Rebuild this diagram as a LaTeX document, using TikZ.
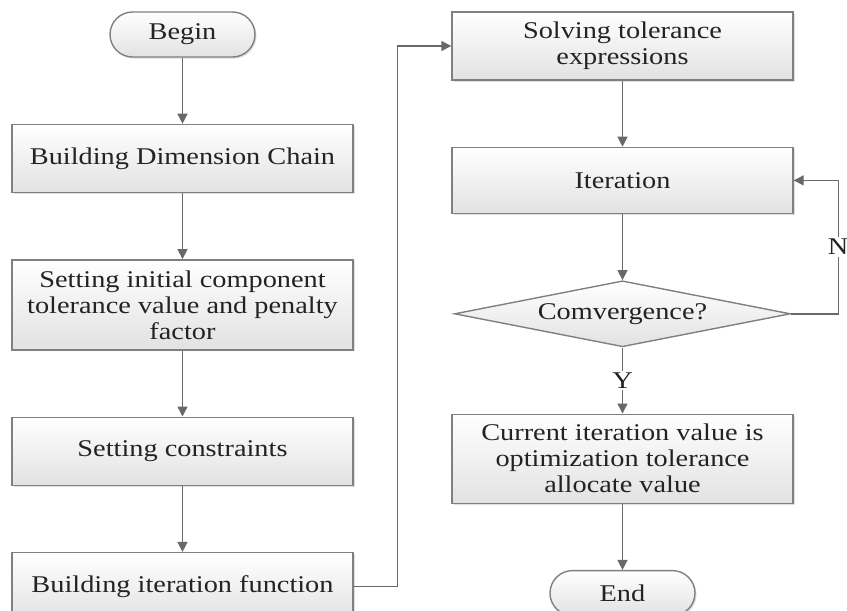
\documentclass[tikz,border=0pt]{standalone}
\usepackage{fontspec}
\setmainfont{Liberation Serif}[FakeStretch=1.18]
\usepackage{tikz}
\usetikzlibrary{shapes.geometric,arrows.meta,positioning,shadows}
\definecolor{edge}{RGB}{128,128,128}
\definecolor{wire}{RGB}{105,105,105}
\definecolor{ink}{RGB}{35,35,35}
\definecolor{shade}{RGB}{226,226,226}

\begin{document}
\begin{tikzpicture}[font=\fontsize{12}{13}\selectfont,node distance=33pt,
  blk/.style={draw=edge,line width=0.7pt,top color=white,bottom color=shade,drop shadow={shadow xshift=0.8pt,shadow yshift=-0.8pt,opacity=0.25},minimum width=170.5pt,minimum height=34pt,align=center,text=ink,inner sep=2pt},
  term/.style={blk,minimum width=72.5pt,minimum height=22.5pt,rounded corners=11.25pt},
  cond/.style={draw=edge,line width=0.7pt,diamond,aspect=5,top color=white,bottom color=shade,minimum width=168pt,minimum height=33pt,inner sep=0pt,text=ink},
  a/.style={-{Triangle[length=5pt,width=5pt]},line width=0.7pt,color=wire}]
  \useasboundingbox (0,0) rectangle (423.5pt,-305.5pt);
  \node[term] (begin) at (91.25pt,-17.25pt) {Begin};
  \node[blk,below=of begin] (chain) {Building Dimension Chain};
  \node[blk,below=of chain,minimum height=45pt] (init) {Setting initial component\\tolerance value and penalty\\factor};
  \node[blk,below=of init] (cons) {Setting constraints};
  \node[blk,below=of cons] (func) {Building iteration function};
  \node[blk] (solve) at (311.25pt,-23pt) {Solving tolerance\\expressions};
  \node[blk,below=of solve,minimum height=33pt] (iter) {Iteration};
  \node[cond,below=of iter] (conv) {Comvergence?};
  \node[blk,below=of conv,minimum height=44.5pt] (alloc) {Current iteration value is\\optimization tolerance\\allocate value};
  \node[term,below=of alloc] (end) {End};
  \foreach \i/\j in {begin/chain,chain/init,init/cons,cons/func,solve/iter,iter/conv,alloc/end} \draw[a] (\i)--(\j);
  \draw[a] (conv) -- node[fill=white,inner sep=1pt,text=ink]{Y} (alloc);
  \draw[a] (func.east) -- ++(22pt,0) |- (solve.west);
  \draw[a] (conv.east) -- ++(23.5pt,0) |- node[pos=0.25,fill=white,inner sep=1pt,text=ink]{N} (iter.east);
\end{tikzpicture}
\end{document}
